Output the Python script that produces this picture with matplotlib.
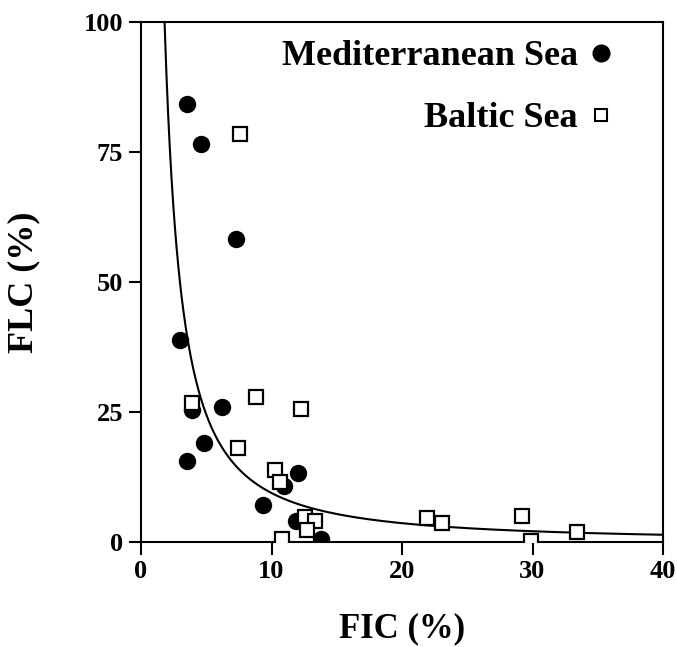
import numpy as np
import matplotlib
matplotlib.use("Agg")
import matplotlib.pyplot as plt
from matplotlib.lines import Line2D

plt.rcParams['font.family'] = ['Liberation Serif', 'DejaVu Serif']
plt.rcParams['font.weight'] = 'bold'

# Mediterranean Sea (filled circles)
med_fic = [3.5, 4.6, 7.25, 3.0, 3.9, 6.2, 4.8, 3.55, 12.05, 10.95, 9.35, 11.85, 13.8]
med_flc = [84.2, 76.6, 58.2, 38.8, 25.4, 26.0, 19.0, 15.6, 13.3, 10.8, 7.2, 4.1, 0.6]

# Baltic Sea (open squares)
bal_fic = [7.6, 3.9, 8.85, 12.25, 7.45, 10.25, 10.65, 12.55, 13.3, 12.7, 10.8,
           21.9, 23.1, 29.2, 29.9, 33.4]
bal_flc = [78.4, 26.7, 27.8, 25.6, 18.1, 13.8, 11.6, 4.9, 4.1, 2.3, 0.6,
           4.7, 3.65, 5.0, 0.2, 1.9]

# fitted hyperbolic-type curve FLC = a * FIC^b
fit_a = 226.0
fit_b = -1.38

x_ticks = [0, 10, 20, 30, 40]
y_ticks = [0, 25, 50, 75, 100]

fig = plt.figure(figsize=(6.77, 6.47), dpi=100)
ax = fig.add_axes([141/677, 1 - 542/647, 522/677, 520/647])

xc = np.linspace(1.5, 40, 600)
ax.plot(xc, fit_a * xc ** fit_b, color='black', lw=1.5, zorder=2)

ax.plot(med_fic, med_flc, 'o', ms=11.5, color='black', mec='black', zorder=3)
ax.plot(bal_fic, bal_flc, 's', ms=10.5, mfc='white', mec='black', mew=1.6, zorder=4)

ax.set_xlim(0, 40)
ax.set_ylim(0, 100)
ax.set_xticks(x_ticks)
ax.set_yticks(y_ticks)
for s in ax.spines.values():
    s.set_linewidth(1.5)
ax.tick_params(direction='out', length=9, width=1.5, pad=4, labelsize=19)
for lab in ax.get_xticklabels() + ax.get_yticklabels():
    lab.set_fontweight('bold')

ax.set_xlabel('FIC (%)', fontsize=25, fontweight='bold')
ax.set_ylabel('FLC (%)', fontsize=26, fontweight='bold')
ax.xaxis.set_label_coords(0.5, -0.136)
ax.yaxis.set_label_coords(-0.193, 0.5)

handles = [Line2D([], [], ls='none', marker='o', ms=12, color='black'),
           Line2D([], [], ls='none', marker='s', ms=8, mfc='white', mec='black', mew=1.5)]
leg = ax.legend(handles, ['Mediterranean Sea', 'Baltic Sea'], loc='upper right',
                bbox_to_anchor=(612/677, 1 - 40/647), bbox_transform=fig.transFigure,
                frameon=False, markerfirst=False, handlelength=0.6, handletextpad=0.35,
                borderpad=0, borderaxespad=0, labelspacing=0.8,
                prop={'size': 26, 'weight': 'bold'})

fig.savefig('out.png', dpi=100)
